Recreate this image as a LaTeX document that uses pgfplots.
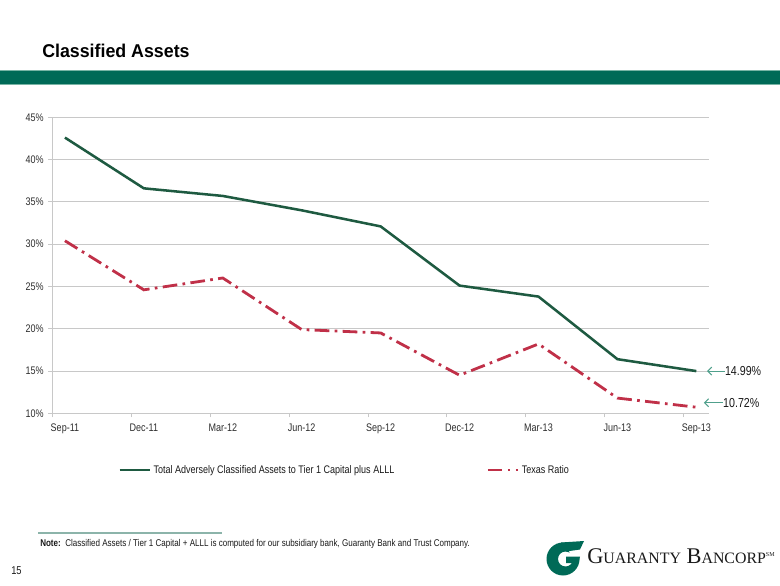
\documentclass[border=0pt]{standalone}
\usepackage{pgfplots}
\pgfplotsset{compat=1.18}
\usetikzlibrary{arrows.meta}
\usepackage{fontspec}
\setmainfont{Liberation Sans}
\newfontfamily\narrowfont[FakeStretch=0.82]{Liberation Sans}
\newfontfamily\titlefont[FakeStretch=0.96]{Liberation Sans}
\newfontfamily\logofont{Liberation Serif}
\definecolor{bandgreen}{RGB}{0,106,87}
\definecolor{bandedge}{RGB}{120,180,165}
\definecolor{linegreen}{RGB}{30,90,65}
\definecolor{linered}{RGB}{192,48,72}
\definecolor{arrowteal}{RGB}{80,160,140}
\definecolor{noteline}{RGB}{140,180,170}
\definecolor{gridc}{RGB}{200,200,200}
\definecolor{tickc}{RGB}{45,45,45}
\definecolor{darkc}{RGB}{25,25,25}
\begin{document}
\begin{tikzpicture}
\path[use as bounding box] (0,0) rectangle (585pt,438.75pt);
\begin{scope}[x=0.75pt,y=-0.75pt,yshift=438.75pt]
  % title
  \node[anchor=base west, inner sep=0pt, text=black, font=\titlefont\bfseries\fontsize{13.9}{16}\selectfont] at (42,57.3) {Classified Assets};
  % band
  \fill[bandgreen] (0,71) rectangle (780,85);
  \draw[bandedge, line width=0.75pt] (0,71) -- (780,71);
  \draw[bandedge, line width=0.75pt] (0,85) -- (780,85);
  % note
  \draw[noteline, line width=1.2pt] (38,532.7) -- (222,532.7);
  \node[anchor=base west, inner sep=0pt, text=darkc, font=\narrowfont\fontsize{7.35}{8}\selectfont] at (40,546.7) {\textbf{Note:}\ \ Classified Assets / Tier 1 Capital + ALLL is computed for our subsidiary bank, Guaranty Bank and Trust Company.};
  % page number
  \node[anchor=base west, inner sep=0pt, text=darkc, font=\narrowfont\fontsize{8.5}{9}\selectfont] at (11,574) {15};
  % logo icon
  \fill[bandgreen, even odd rule] (563,559) circle (16.5) (565.5,559) circle (7.5);
  \fill[white] (569,550) -- (586,546) -- (586,557) -- (570,557) -- cycle;
  \fill[bandgreen] (561,542.5) -- (584,541) -- (580,549.5) -- (566,551.5) -- cycle;
  \fill[bandgreen] (566,556.5) -- (580,556.5) -- (578.5,563) -- (566,563) -- cycle;
  % logo text
  \node[anchor=base west, inner sep=0pt, text=darkc] at (587,563.3) {\logofont\fontsize{16.8}{18}\selectfont G\fontsize{11.9}{14}\selectfont UARANTY\fontsize{16.8}{18}\selectfont\ B\fontsize{11.9}{14}\selectfont ANCORP\raisebox{5pt}{\fontsize{4.5}{5}\selectfont SM}};
\end{scope}
\begin{axis}[
  at={(39.225pt,128.775pt)}, anchor=south west,
  width=492.5pt, height=222pt, scale only axis,
  xmin=-0.16, xmax=8.16, ymin=10, ymax=45,
  axis lines*=left,
  axis line style={gridc, line width=0.75pt},
  ytick={10,15,20,25,30,35,40,45},
  yticklabel={\pgfmathprintnumber{\tick}\%},
  ymajorgrids, grid style={gridc, line width=0.75pt},
  xtick={-0.16,0.84,1.84,2.84,3.84,4.84,5.84,6.84,7.84},
  xticklabels={},
  extra x ticks={0,1,2,3,4,5,6,7,8},
  extra x tick labels={Sep-11,Dec-11,Mar-12,Jun-12,Sep-12,Dec-12,Mar-13,Jun-13,Sep-13},
  extra x tick style={major tick length=0pt, grid=none,
    xticklabel style={yshift=-4.5pt}},
  tick align=outside, major tick length=3pt,
  tick style={gridc, line width=0.75pt},
  ticklabel style={font=\narrowfont\fontsize{8.25}{9}\selectfont, text=tickc},
  /pgf/number format/assume math mode=true,
  clip=false,
  legend columns=2,
  legend cell align=left,
  legend style={at={(0.4457,-0.1916)}, anchor=center, draw=none, fill=none,
    font=\narrowfont\fontsize{8.25}{9}\selectfont, text=darkc,
    /tikz/every even column/.append style={column sep=67pt}},
  legend image code/.code={\draw[#1] (0pt,0pt) -- (22.5pt,0pt);},
]
\addplot[linegreen, line width=1.9pt] coordinates {
  (0,42.6) (1,36.6) (2,35.7) (3,34.0) (4,32.1) (5,25.1) (6,23.8) (7,16.4) (8,14.99)};
\addlegendentry{Total Adversely Classified Assets to Tier 1 Capital plus ALLL}
\addplot[linered, line width=2.1pt, dash pattern={on 11pt off 4pt on 2pt off 4pt}] coordinates {
  (0,30.4) (1,24.6) (2,26.0) (3,19.9) (4,19.5) (5,14.5) (6,18.2) (7,11.8) (8,10.72)};
\addlegendentry{Texas Ratio}
\draw[arrowteal, line width=0.75pt, -{Straight Barb[length=3pt,width=6pt]}] (axis cs:8.36,14.99) -- (axis cs:8.135,14.99);
\node[anchor=west, inner sep=0pt, text=darkc, font=\narrowfont\fontsize{9.75}{11}\selectfont] at (axis cs:8.36,14.99) {14.99\%};
\draw[arrowteal, line width=0.75pt, -{Straight Barb[length=3pt,width=6pt]}] (axis cs:8.337,11.25) -- (axis cs:8.096,11.25);
\node[anchor=west, inner sep=0pt, text=darkc, font=\narrowfont\fontsize{9.75}{11}\selectfont] at (axis cs:8.337,11.25) {10.72\%};
\end{axis}
\end{tikzpicture}
\end{document}
